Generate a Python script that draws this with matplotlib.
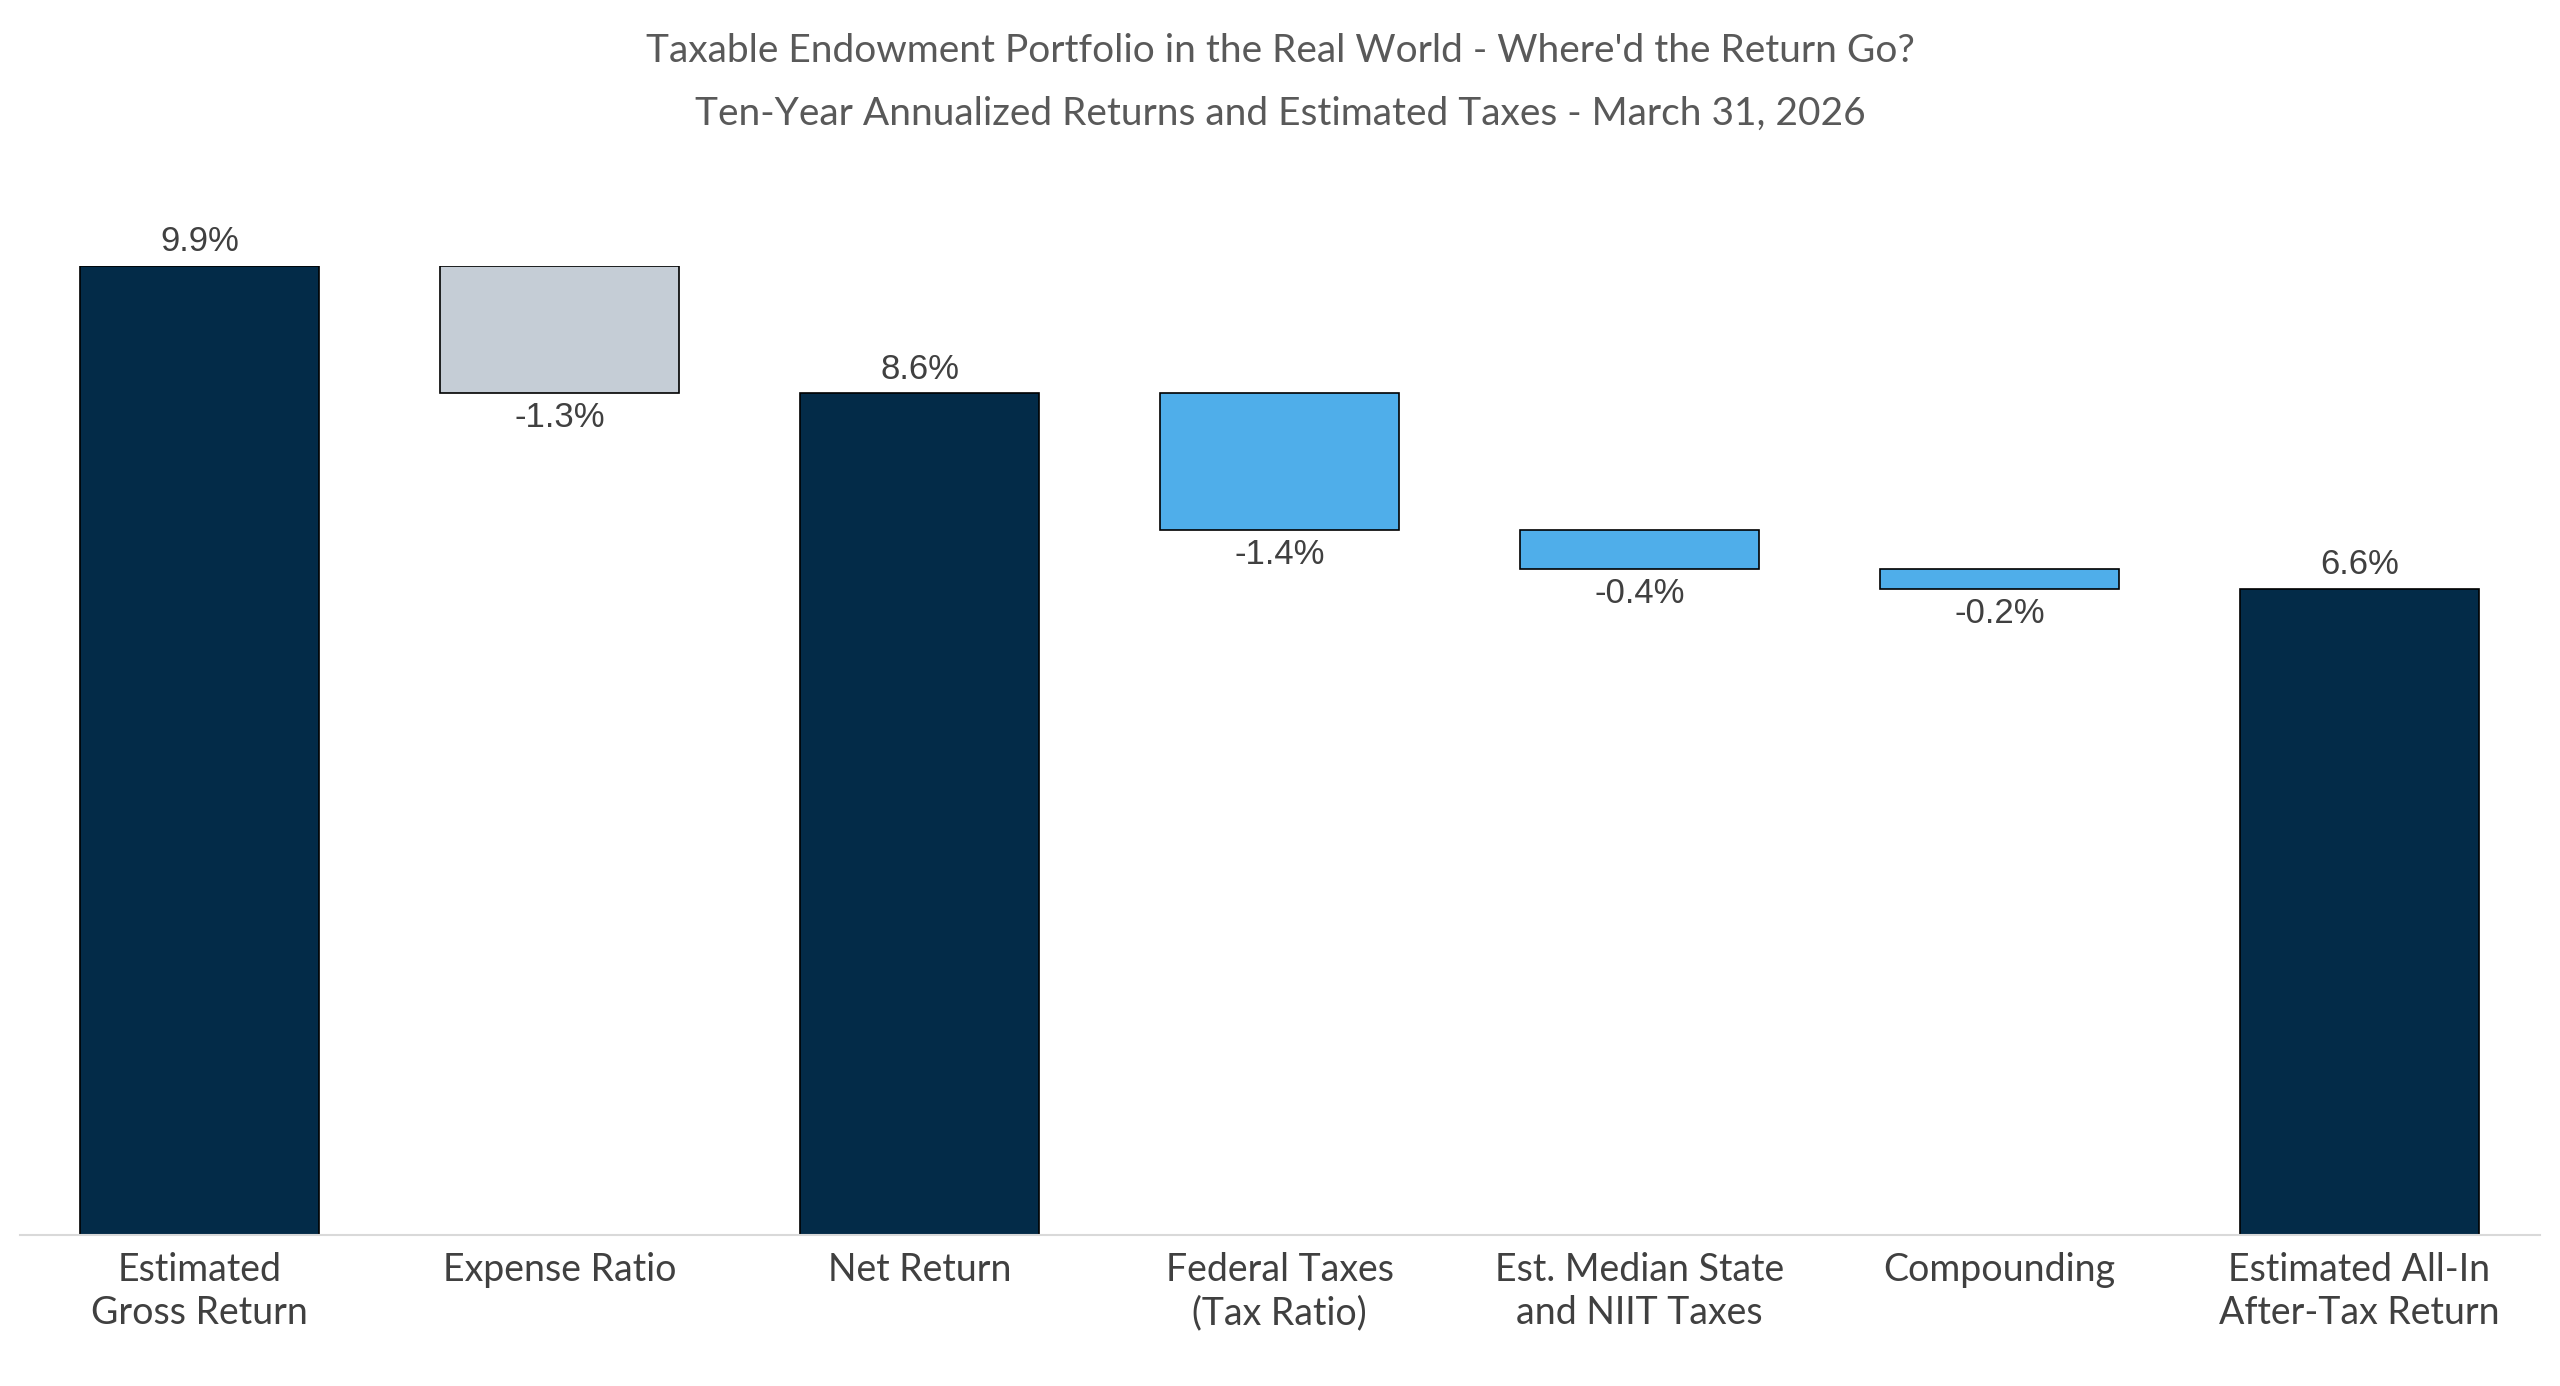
import matplotlib
matplotlib.use("Agg")
import matplotlib.pyplot as plt

categories = ["Estimated\nGross Return", "Expense Ratio", "Net Return", "Federal Taxes\n(Tax Ratio)",
              "Est. Median State\nand NIIT Taxes", "Compounding", "Estimated All-In\nAfter-Tax Return"]
values = [9.9, -1.3, 8.6, -1.4, -0.4, -0.2, 6.6]
kinds = ["total", "fee", "total", "tax", "tax", "tax", "total"]
labels = ["9.9%", "-1.3%", "8.6%", "-1.4%", "-0.4%", "-0.2%", "6.6%"]
colors = {"total": "#032B48", "fee": "#C5CDD6", "tax": "#4FAEEA"}

fig = plt.figure(figsize=(25.6, 13.86), dpi=100)
ax = fig.add_axes([0.0077, 0.109, 0.9843, 0.699])

running = 0
for i, (v, k, lab) in enumerate(zip(values, kinds, labels)):
    if k == "total":
        bottom, height = 0, v
        running = v
        ax.bar(i, height, bottom=bottom, width=0.665, color=colors[k], edgecolor="black", linewidth=1.2)
        ax.text(i, v + 0.08, lab, ha="center", va="bottom", fontsize=25, color="#404040", family="Liberation Sans")
    else:
        top = running
        running = running + v
        ax.bar(i, -v, bottom=running, width=0.665, color=colors[k], edgecolor="black", linewidth=1.2)
        ax.text(i, running - 0.08, lab, ha="center", va="top", fontsize=25, color="#404040", family="Liberation Sans")

ax.set_xlim(-0.5, 6.5)
ax.set_ylim(0, 9.9)
ax.set_yticks([])
ax.set_xticks(range(len(categories)))
ax.set_xticklabels(categories, fontsize=27, color="#404040", family="Lato", linespacing=1.25)
ax.tick_params(axis="x", length=0, pad=12)
for s in ["top", "left", "right"]:
    ax.spines[s].set_visible(False)
ax.spines["bottom"].set_color("#D9D9D9")
ax.spines["bottom"].set_linewidth(1.5)

fig.text(0.5, 0.963, "Taxable Endowment Portfolio in the Real World - Where'd the Return Go?",
         ha="center", va="center", fontsize=28, color="#595959", family="Lato")
fig.text(0.5, 0.918, "Ten-Year Annualized Returns and Estimated Taxes - March 31, 2026",
         ha="center", va="center", fontsize=28, color="#595959", family="Lato")

fig.savefig("out.png", dpi=100, facecolor="white")
